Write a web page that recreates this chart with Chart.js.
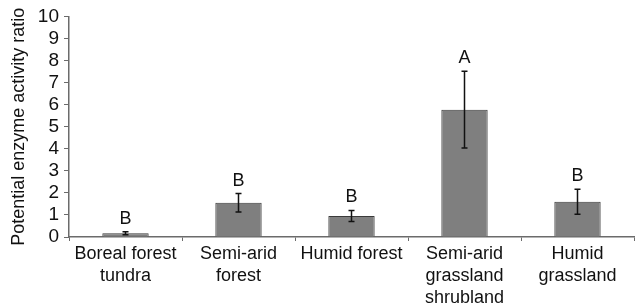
<!DOCTYPE html>
<html>
<head>
<meta charset="utf-8">
<script src="https://cdn.jsdelivr.net/npm/chart.js@4.4.0/dist/chart.umd.min.js"></script>
<style>
  html, body { margin: 0; padding: 0; background: #fff; }
  #wrap { width: 638px; height: 308px; position: relative; }
</style>
</head>
<body>
<div id="wrap"><canvas id="enzymeChart"></canvas></div>
<script>
// --- DATA ---
const categories = [
    ['Boreal forest', 'tundra'],
    ['Semi-arid', 'forest'],
    'Humid forest',
    ['Semi-arid', 'grassland', 'shrubland'],
    ['Humid', 'grassland']
];
const meanRatio = [0.17, 1.55, 0.95, 5.77, 1.6];
const errorSize = [0.07, 0.42, 0.25, 1.74, 0.57];
const groupLetters = ['B', 'B', 'B', 'A', 'B'];
const yTicks = [0, 1, 2, 3, 4, 5, 6, 7, 8, 9, 10];

const AXIS_COLOR = '#6b6b6b';
const FONT = 'Liberation Sans, Arial, sans-serif';

// error bars + significance letters, drawn off the chart scales
const errorBarPlugin = {
    id: 'errorBars',
    afterDatasetsDraw(chart) {
        const { ctx, scales: { x, y } } = chart;
        ctx.save();
        ctx.strokeStyle = '#111';
        ctx.lineWidth = 1.5;
        meanRatio.forEach((v, i) => {
            const cx = x.getPixelForValue(i);
            const top = y.getPixelForValue(v + errorSize[i]);
            const bot = y.getPixelForValue(v - errorSize[i]);
            ctx.beginPath();
            ctx.moveTo(cx, top); ctx.lineTo(cx, bot);
            ctx.moveTo(cx - 3, top); ctx.lineTo(cx + 3, top);
            ctx.moveTo(cx - 3, bot); ctx.lineTo(cx + 3, bot);
            ctx.stroke();
            ctx.fillStyle = '#111';
            ctx.font = '18px ' + FONT;
            ctx.textAlign = 'center';
            ctx.textBaseline = 'bottom';
            ctx.fillText(groupLetters[i], cx, top - 4);
        });
        ctx.restore();
    }
};

function renderChart() {
    const ctx = document.getElementById('enzymeChart').getContext('2d');
    new Chart(ctx, {
        type: 'bar',
        data: {
            labels: categories,
            datasets: [{
                data: meanRatio,
                backgroundColor: '#7f7f7f',
                borderColor: '#3a3a3a',
                borderWidth: 1,
                categoryPercentage: 1,
                barPercentage: 0.41
            }]
        },
        plugins: [errorBarPlugin],
        options: {
            responsive: true,
            maintainAspectRatio: false,
            animation: false,
            layout: { padding: { top: 12, right: 4, left: 8, bottom: 0 } },
            plugins: {
                legend: { display: false },
                tooltip: { enabled: false }
            },
            scales: {
                x: {
                    grid: { drawOnChartArea: false, color: AXIS_COLOR, tickLength: 4, offset: true },
                    border: { color: AXIS_COLOR, width: 1.5 },
                    ticks: { color: '#111', font: { family: FONT, size: 18, lineHeight: 1.22 }, padding: 2, maxRotation: 0, autoSkip: false },
                    afterFit: (s) => { s.height = 71; }
                },
                y: {
                    min: 0,
                    max: 10,
                    afterBuildTicks: (s) => { s.ticks = yTicks.map(v => ({ value: v })); },
                    grid: { drawOnChartArea: false, color: AXIS_COLOR, tickLength: 5 },
                    border: { color: AXIS_COLOR, width: 1.5 },
                    ticks: { color: '#111', font: { family: FONT, size: 19 }, padding: 5, autoSkip: false },
                    title: { display: true, text: 'Potential enzyme activity ratio', color: '#111', font: { family: FONT, size: 18 }, padding: 0 },
                    afterFit: (s) => { s.width = 61; }
                }
            }
        }
    });
}

window.onload = renderChart;
</script>
</body>
</html>
